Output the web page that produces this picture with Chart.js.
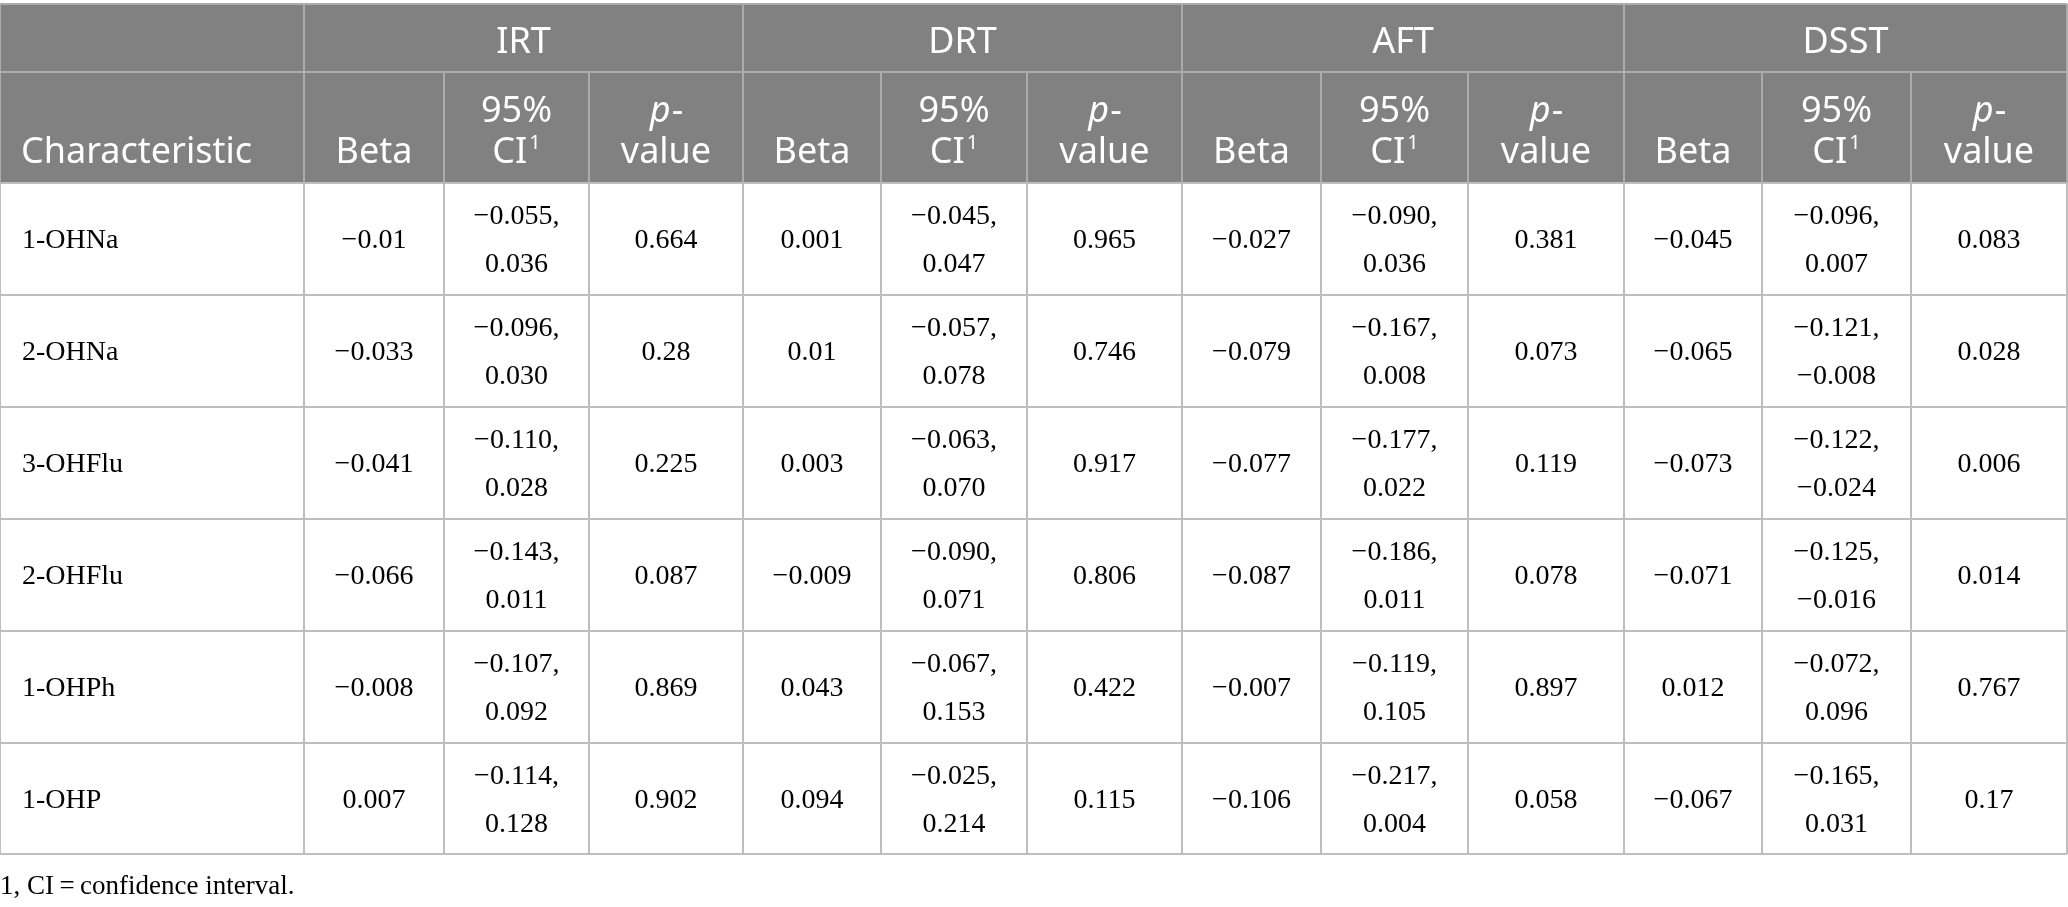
<!DOCTYPE html>
<html>
<head>
<meta charset="utf-8">
<script src="https://cdn.jsdelivr.net/npm/chart.js@4"></script>
<style>
  html, body { margin: 0; padding: 0; background: #fff; }
  #wrap { width: 2068px; height: 907px; position: relative; }
</style>
</head>
<body>
<div id="wrap"><canvas id="tableChart"></canvas></div>
<script>
// ---- data ----
const groups = ['IRT', 'DRT', 'AFT', 'DSST'];
const characteristics = ['1-OHNa', '2-OHNa', '3-OHFlu', '2-OHFlu', '1-OHPh', '1-OHP'];

const irtBeta = [-0.01, -0.033, -0.041, -0.066, -0.008, 0.007];
const irtLow  = [-0.055, -0.096, -0.110, -0.143, -0.107, -0.114];
const irtHigh = [0.036, 0.030, 0.028, 0.011, 0.092, 0.128];
const irtP    = [0.664, 0.28, 0.225, 0.087, 0.869, 0.902];

const drtBeta = [0.001, 0.01, 0.003, -0.009, 0.043, 0.094];
const drtLow  = [-0.045, -0.057, -0.063, -0.090, -0.067, -0.025];
const drtHigh = [0.047, 0.078, 0.070, 0.071, 0.153, 0.214];
const drtP    = [0.965, 0.746, 0.917, 0.806, 0.422, 0.115];

const aftBeta = [-0.027, -0.079, -0.077, -0.087, -0.007, -0.106];
const aftLow  = [-0.090, -0.167, -0.177, -0.186, -0.119, -0.217];
const aftHigh = [0.036, 0.008, 0.022, 0.011, 0.105, 0.004];
const aftP    = [0.381, 0.073, 0.119, 0.078, 0.897, 0.058];

const dsstBeta = [-0.045, -0.065, -0.073, -0.071, 0.012, -0.067];
const dsstLow  = [-0.096, -0.121, -0.122, -0.125, -0.072, -0.165];
const dsstHigh = [0.007, -0.008, -0.024, -0.016, 0.096, 0.031];
const dsstP    = [0.083, 0.028, 0.006, 0.014, 0.767, 0.17];

const footnote = '1, CI\u2009=\u2009confidence interval.';

// ---- layout (units of the x / y scales) ----
const colEdges = [0, 304, 444, 589, 743, 881, 1027, 1182, 1321, 1468, 1624, 1762, 1911, 2067];
const rowEdges = [4, 72, 183, 295, 407, 519, 631, 743, 854];
const footY = 885;

const headBg = 'rgb(128,129,128)';
const headLine = 'rgb(170,171,170)';
const bodyLine = 'rgb(190,190,190)';
const sansFont = '"Noto Sans", "Open Sans", sans-serif';
const serifFont = '"Liberation Serif", "DejaVu Serif", serif';

const minus = v => String(v).replace('-', '\u2212');
const fix3 = v => minus(v.toFixed(3));

const series = [
  [irtBeta, irtLow, irtHigh, irtP],
  [drtBeta, drtLow, drtHigh, drtP],
  [aftBeta, aftLow, aftHigh, aftP],
  [dsstBeta, dsstLow, dsstHigh, dsstP],
];

const tablePlugin = {
  id: 'tablePlugin',
  afterDraw(chart) {
    const c = chart.ctx;
    const xs = chart.scales.x, ys = chart.scales.y;
    const X = v => xs.getPixelForValue(v);
    const Y = v => ys.getPixelForValue(v);
    const left = X(colEdges[0]), right = X(colEdges[colEdges.length - 1]);
    const nC = colEdges.length - 1;

    c.save();
    // header background
    c.fillStyle = headBg;
    c.fillRect(left, Y(rowEdges[0]), right - left, Y(rowEdges[2]) - Y(rowEdges[0]));

    c.lineWidth = 2;
    // horizontal rules
    rowEdges.forEach((r, i) => {
      c.strokeStyle = i < 2 ? headLine : bodyLine;
      c.beginPath();
      c.moveTo(left, Y(r));
      c.lineTo(right, Y(r));
      c.stroke();
    });
    // vertical rules
    colEdges.forEach((e, i) => {
      const isGroupEdge = i === 0 || i === nC || (i - 1) % 3 === 0;
      if (isGroupEdge) {
        c.strokeStyle = headLine;
        c.beginPath(); c.moveTo(X(e), Y(rowEdges[0])); c.lineTo(X(e), Y(rowEdges[1])); c.stroke();
      }
      c.strokeStyle = headLine;
      c.beginPath(); c.moveTo(X(e), Y(rowEdges[1])); c.lineTo(X(e), Y(rowEdges[2])); c.stroke();
      c.strokeStyle = bodyLine;
      c.beginPath(); c.moveTo(X(e), Y(rowEdges[2])); c.lineTo(X(e), Y(rowEdges[rowEdges.length - 1])); c.stroke();
    });

    // header text
    c.fillStyle = '#fff';
    c.textBaseline = 'alphabetic';
    c.font = '36px ' + sansFont;
    c.textAlign = 'center';
    groups.forEach((g, gi) => {
      const x0 = X(colEdges[1 + gi * 3]), x1 = X(colEdges[4 + gi * 3]);
      c.fillText(g, (x0 + x1) / 2, Y(53));
    });
    const base2 = Y(163), base1 = Y(122);
    c.textAlign = 'left';
    c.fillText('Characteristic', X(colEdges[0]) + 21, base2);
    groups.forEach((g, gi) => {
      const cx = k => (X(colEdges[1 + gi * 3 + k]) + X(colEdges[2 + gi * 3 + k])) / 2;
      c.textAlign = 'center';
      c.font = '36px ' + sansFont;
      c.fillText('Beta', cx(0), base2);
      c.fillText('95%', cx(1), base1);
      // CI with superscript 1
      const wCI = c.measureText('CI').width;
      c.font = '20px ' + sansFont;
      const wSup = c.measureText('1').width;
      const sx = cx(1) - (wCI + wSup + 2) / 2;
      c.textAlign = 'left';
      c.font = '36px ' + sansFont;
      c.fillText('CI', sx, base2);
      c.font = '20px ' + sansFont;
      c.fillText('1', sx + wCI + 2, base2 - 14);
      // p-value
      c.font = 'italic 36px ' + sansFont;
      const wp = c.measureText('p').width;
      c.font = '36px ' + sansFont;
      const wd = c.measureText('-').width;
      const px = cx(2) - (wp + wd) / 2;
      c.font = 'italic 36px ' + sansFont;
      c.fillText('p', px, base1);
      c.font = '36px ' + sansFont;
      c.fillText('-', px + wp + 1, base1);
      c.textAlign = 'center';
      c.fillText('value', cx(2), base2);
    });

    // body text
    c.fillStyle = '#000';
    c.font = '28px ' + serifFont;
    characteristics.forEach((name, ri) => {
      const mid = (Y(rowEdges[2 + ri]) + Y(rowEdges[3 + ri])) / 2;
      const base = mid + 9;
      c.textAlign = 'left';
      c.fillText(name, X(colEdges[0]) + 22, base);
      c.textAlign = 'center';
      series.forEach((s, gi) => {
        const cx = k => (X(colEdges[1 + gi * 3 + k]) + X(colEdges[2 + gi * 3 + k])) / 2;
        const [beta, low, high, p] = s;
        c.fillText(minus(beta[ri]), cx(0), base);
        c.fillText(fix3(low[ri]) + ',', cx(1), base - 24);
        c.fillText(fix3(high[ri]), cx(1), base + 24);
        c.fillText(String(p[ri]), cx(2), base);
      });
    });

    // footnote
    c.font = '27px ' + serifFont;
    c.textAlign = 'left';
    c.fillText(footnote, X(0), Y(footY) + 9);
    c.restore();
  }
};

new Chart(document.getElementById('tableChart'), {
  type: 'scatter',
  data: { datasets: [{ data: [], pointRadius: 0 }] },
  options: {
    responsive: true,
    maintainAspectRatio: false,
    devicePixelRatio: 1,
    animation: false,
    layout: { padding: 0 },
    plugins: { legend: { display: false }, tooltip: { enabled: false } },
    scales: {
      x: { type: 'linear', min: 0, max: 2068, display: false },
      y: { type: 'linear', min: 0, max: 907, reverse: true, display: false },
    },
  },
  plugins: [tablePlugin],
});
</script>
</body>
</html>
